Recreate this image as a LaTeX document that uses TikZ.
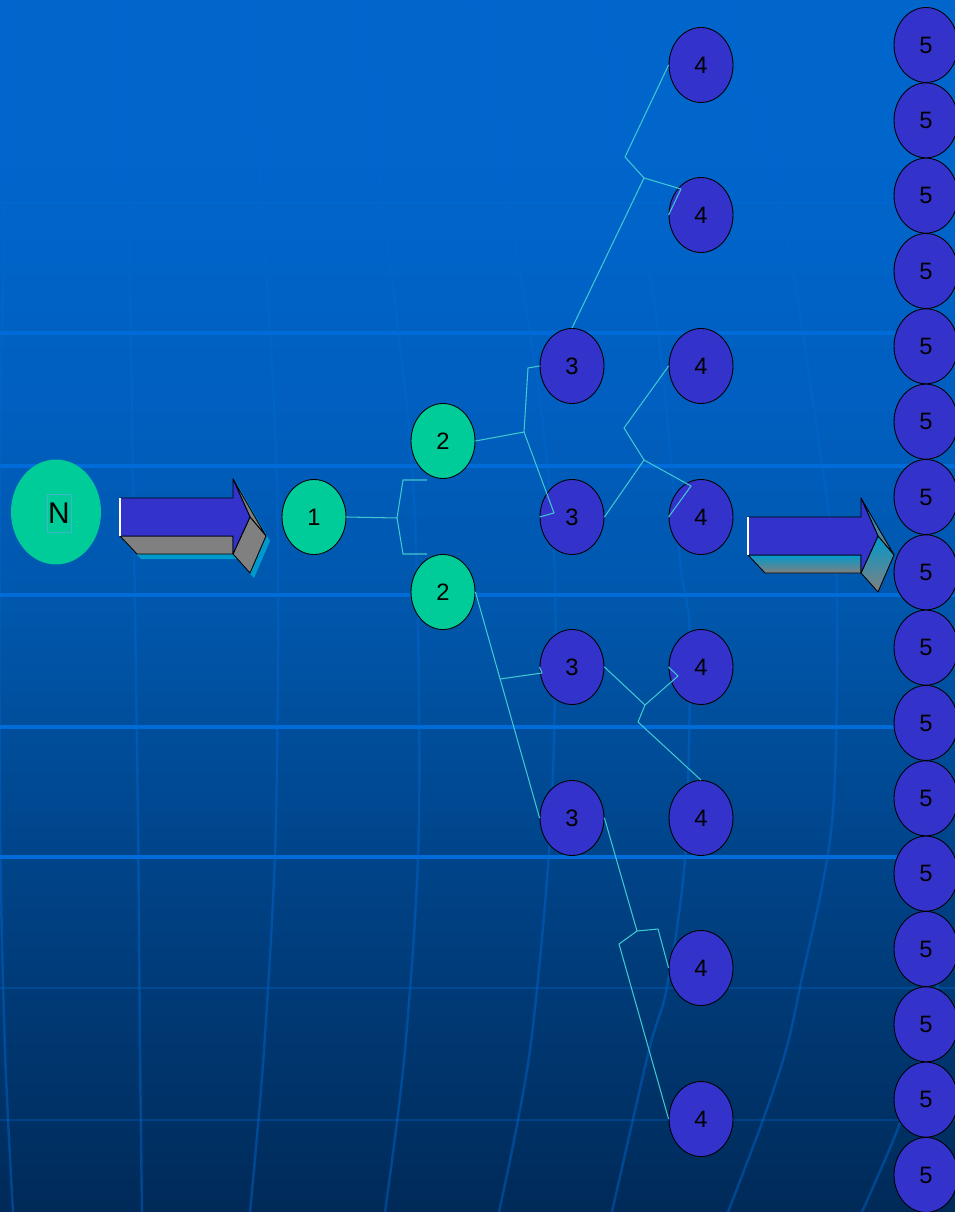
\documentclass[tikz,border=0pt]{standalone}
\usepackage{fontspec}
\setmainfont{Liberation Sans}
\usetikzlibrary{shapes.geometric}

\definecolor{bgtop}{HTML}{0066CC}
\definecolor{bgup}{HTML}{005FC0}
\definecolor{bgmid}{HTML}{0057AC}
\definecolor{bglow}{HTML}{00478F}
\definecolor{bgbot}{HTML}{002A58}
\definecolor{gridh}{HTML}{006CDA}
\definecolor{gridv}{HTML}{0068D0}
\definecolor{leafgreen}{HTML}{00CC99}
\definecolor{nodeblue}{HTML}{3333CC}
\definecolor{linkc}{HTML}{40C8D0}
\definecolor{nboxc}{HTML}{3DB8C8}
\definecolor{shadowc}{HTML}{0099CC}
\definecolor{sidegray}{HTML}{808080}

%% slide background, the middle 50bp span the picture from bottom to top
\pgfdeclareverticalshading{slidebg}{100bp}{
  color(0bp)=(bgbot); color(25bp)=(bgbot); color(41.2bp)=(bglow);
  color(50bp)=(bgmid); color(58.5bp)=(bgup); color(68.8bp)=(bgtop);
  color(100bp)=(bgtop)}

\begin{document}
\begin{tikzpicture}[
    x=0.02cm, y=-0.02cm,
    %% one unit = one pixel of the 955 x 1212 slide, y pointing down
    gnode/.style={ellipse, draw=black, line width=0.5pt, fill=leafgreen,
                  minimum width=1.28cm, minimum height=1.5cm, inner sep=0pt,
                  font=\fontsize{13.5}{16}\selectfont},
    bnode/.style={gnode, fill=nodeblue},
    link/.style={draw=linkc, line width=0.6pt, line join=round},
    hgrid/.style={gridh, line width=1.8pt},
    lgrid/.style={gridh, opacity=0.3, line width=1.6pt},
    vgrid/.style={gridv, opacity=0.45, line width=1.4pt},
    face/.style={draw=black, line width=0.5pt, line join=round},
    side/.style={fill=sidegray},
    blockarrow/.pic={
      \path[face, side] (0,38) -- (113,38) -- (113,56) -- (17,56) -- cycle;
      \path[face, side] (113,-19) -- (146,38) -- (130,19) -- cycle;
      \path[face, side] (130,19) -- (146,38) -- (130,75) -- (113,56) -- cycle;
      \filldraw[face, fill=nodeblue] (0,0) -- (113,0) -- (113,-19) -- (130,19)
          -- (113,56) -- (113,38) -- (0,38) -- cycle;
      \draw[white, line width=1.2pt] (0,0) -- (0,38);
    },
]

  \clip (0,0) rectangle (955,1212);

  %% ---- background: gradient and bent grid ----
  \shade[shading=slidebg] (0,0) rectangle (955,1212);
  \foreach \y in {333,466,595,727,857}
    \draw[hgrid] (0,\y) -- (955,\y);
  \foreach \y in {203,988,1120}
    \draw[lgrid] (0,\y) -- (955,\y);
  \draw[vgrid] plot[smooth] coordinates {(10,0) (5,180) (0,480) (0,820) (5,1050) (13,1212)};
  \draw[vgrid] plot[smooth] coordinates {(120,0) (128,180) (133,480) (138,820) (140,1050) (142,1212)};
  \draw[vgrid] plot[smooth] coordinates {(245,0) (260,180) (277,480) (276,820) (264,1050) (250,1212)};
  \draw[vgrid] plot[smooth] coordinates {(360,0) (380,180) (413,480) (419,820) (405,1050) (385,1212)};
  \draw[vgrid] plot[smooth] coordinates {(480,0) (505,180) (540,400) (555,580) (551,820) (530,1050) (499,1212)};
  \draw[vgrid] plot[smooth] coordinates {(600,0) (630,180) (657,320) (680,560) (690,640) (685,857) (667,987) (649,1050) (612,1212)};
  \draw[vgrid] plot[smooth] coordinates {(720,0) (780,200) (827,500) (837,600) (832,823) (800,987) (786,1050) (763,1120) (728,1212)};
  \draw[vgrid] plot[smooth] coordinates {(945,950) (925,1040) (900,1123) (862,1212)};

  %% ---- block arrows ----
  \fill[shadowc] (124,503) -- (237,503) -- (237,484) -- (270,541) -- (254,578)
      -- (237,559) -- (141,559) -- (124,541) -- cycle;
  \pic at (120,498) {blockarrow};
  \pic[side/.style={top color=shadowc, bottom color=sidegray}] at (748,517) {blockarrow};

  %% ---- start node ----
  \node[ellipse, fill=leafgreen, minimum width=1.8cm, minimum height=2.1cm,
        inner sep=0pt] (nn) at (56,512) {};
  \node[draw=nboxc, line width=0.5pt, minimum width=0.48cm, minimum height=0.76cm,
        inner sep=0pt, font=\fontsize{17}{20}\selectfont] (nlabel) at (59,513) {N};

  %% ---- tree levels 1 to 4 ----
  \node[gnode] (n1)  at (314,517) {1};
  \node[gnode] (n2a) at (443,441) {2};
  \node[gnode] (n2b) at (443,592) {2};
  \foreach \y [count=\i] in {366,517,667,818}
    \node[bnode] (n3-\i) at (572,\y) {3};
  \foreach \y [count=\i] in {65,215,366,517,667,818,968,1119}
    \node[bnode] (n4-\i) at (701,\y) {4};

  %% ---- column of 5s along the right edge ----
  \foreach \i in {0,...,15}
    \node[bnode] (n5-\i) at (926,45+75.33*\i) {5};

  %% ---- branch lines ----
  \coordinate (j1) at (397,518);
  \coordinate (e1) at (427,480);
  \coordinate (e2) at (427,554);
  \draw[link] (n1.east) -- (j1);
  \draw[link] (e1) -- (403,480) -- (j1) -- (403,554) -- (e2);

  \coordinate (j2) at (524,432);
  \draw[link] (n2a.east) -- (j2) -- (528,368) -- (n3-1.west);
  \draw[link] (j2) -- (554,513) -- (n3-2.west);

  \coordinate (j3) at (500,679);
  \draw[link] (n2b.east) -- (n3-4.west);
  \draw[link] (j3) -- (542,673) -- (n3-3.west);

  \coordinate (j4) at (644,178);
  \draw[link] (n3-1.north) -- (j4) -- (625,157) -- (n4-1.west);
  \draw[link] (j4) -- (681,189) -- (n4-2.west);

  \coordinate (j5) at (644,460);
  \draw[link] (n3-2.east) -- (j5) -- (624,428) -- (n4-3.west);
  \draw[link] (j5) -- (691,486) -- (n4-4.west);

  \coordinate (j6) at (645,705);
  \draw[link] (n3-3.east) -- (j6) -- (678,676) -- (n4-5.west);
  \draw[link] (j6) -- (638,722) -- (n4-6.north);

  \coordinate (j7) at (637,931);
  \draw[link] (n3-4.east) -- (j7) -- (658,929) -- (n4-7.west);
  \draw[link] (j7) -- (619,944) -- (n4-8.west);

\end{tikzpicture}
\end{document}
